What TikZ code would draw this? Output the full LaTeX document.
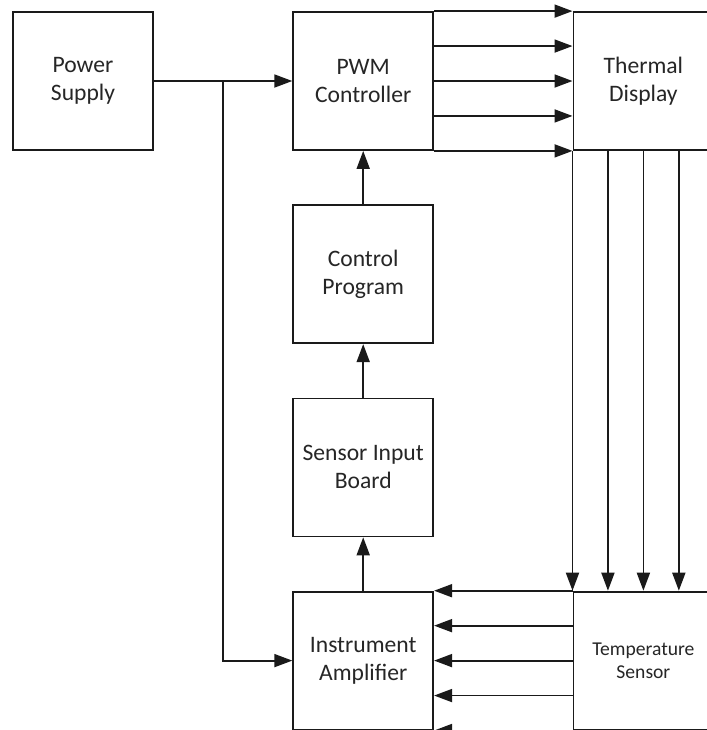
\documentclass[tikz,border=0pt]{standalone}
\usepackage{fontspec}
\setmainfont{Carlito}
\usetikzlibrary{arrows.meta, positioning, calc}
\definecolor{txtcol}{HTML}{262626}
\definecolor{lndraw}{HTML}{1A1A1A}
\tikzset{
  blk/.style={rectangle, draw=lndraw, line width=0.9pt, align=center, font=\fontsize{11.8}{14}\selectfont, text=txtcol, inner sep=2pt, minimum width=70pt, minimum height=69pt},
  smallblk/.style={blk, font=\fontsize{9.8}{11.2}\selectfont},
  arr/.style={-{Triangle[length=9pt, width=6.5pt]}, line width=0.9pt, draw=lndraw},
}

\begin{document}
\begin{tikzpicture}[node distance=26.7pt and 69.2pt]
  \useasboundingbox (-41.5pt,40.5pt) rectangle (312pt,-324.5pt);
  \fill[white] (-41.5pt,40.5pt) rectangle (312pt,-324.5pt);
  \clip (-41.5pt,40.5pt) rectangle (312pt,-324.5pt);
  \node[blk] (ps) at (0,0) {Power\\Supply};
  \node[blk, right=of ps] (pwm) {PWM\\Controller};
  \node[blk, right=of pwm] (td) {Thermal\\Display};
  \node[blk, below=of pwm] (cp) {Control\\Program};
  \node[blk, below=of cp] (sib) {Sensor Input\\Board};
  \node[blk, below=of sib] (ia) {Instrument\\Amplifier};
  \node[smallblk, right=of ia] (ts) {Temperature\\Sensor};
  \coordinate (tap) at ($(ps.east)!0.5!(pwm.west)$);
  \draw[arr] (ps) -- (pwm);
  \draw[arr] (tap) |- (ia.west);
  \draw[arr] (ia) -- (sib);
  \draw[arr] (sib) -- (cp);
  \draw[arr] (cp) -- (pwm);
  \foreach \f in {0,0.25,0.5,0.75,1} {
    \draw[arr] ($(pwm.north east)!\f!(pwm.south east)$) -- ($(td.north west)!\f!(td.south west)$);
    \draw[arr] ($(td.south west)!\f!(td.south east)$) -- ($(ts.north west)!\f!(ts.north east)$);
    \draw[arr] ($(ts.north west)!\f!(ts.south west)$) -- ($(ia.north east)!\f!(ia.south east)$);
  }
\end{tikzpicture}
\end{document}
